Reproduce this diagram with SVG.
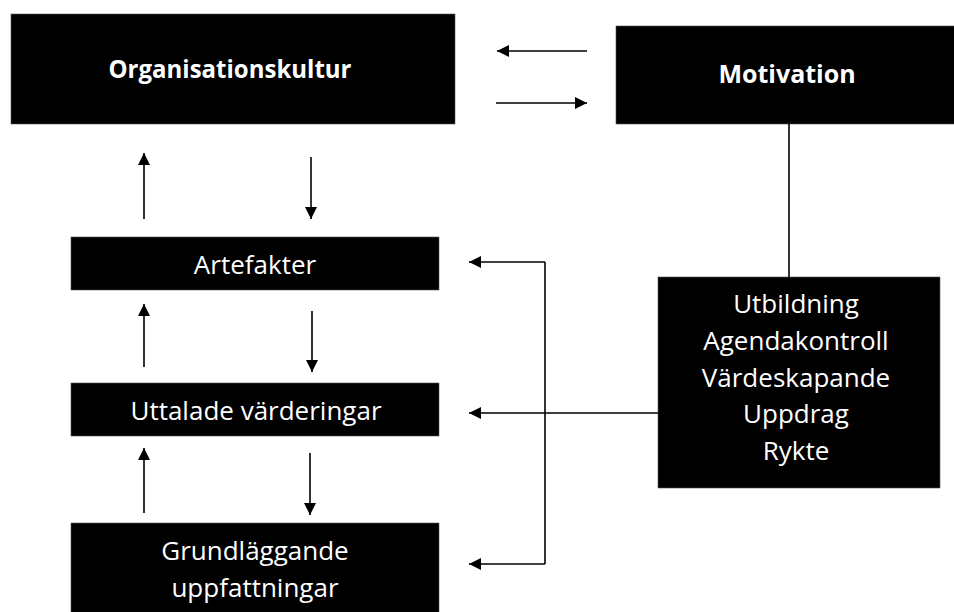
<svg xmlns="http://www.w3.org/2000/svg" width="954" height="612" viewBox="0 0 954 612">
<style>
.box{fill:#000;stroke:#555;stroke-width:0.6}
.t{fill:#fff;font-family:"Open Sans","Noto Sans","Liberation Sans",sans-serif;font-size:26px;text-anchor:middle}
.b{font-weight:bold;font-size:25px}
.c{stroke:#000;stroke-width:1.6;fill:none}
.a{marker-end:url(#ah)}
</style>
<defs>
<marker id="ah" markerUnits="userSpaceOnUse" markerWidth="13" markerHeight="12" viewBox="0 0 10 10" refX="10" refY="5" orient="auto">
<path d="M0,0 L10,5 L0,10 z" fill="#000"/>
</marker>
</defs>
<rect width="954" height="612" fill="#fff"/>
<g id="organisationskultur">
<rect class="box" x="11" y="14" width="444" height="110"/>
<text class="t b" x="230" y="78" textLength="243" lengthAdjust="spacingAndGlyphs">Organisationskultur</text>
</g>
<g id="motivation">
<rect class="box" x="616" y="26" width="340" height="98"/>
<text class="t b" x="787" y="83">Motivation</text>
</g>
<g id="artefakter">
<rect class="box" x="71" y="237" width="368" height="53"/>
<text class="t" x="255" y="274">Artefakter</text>
</g>
<g id="uttalade">
<rect class="box" x="71" y="383" width="368" height="53"/>
<text class="t" x="256" y="420">Uttalade värderingar</text>
</g>
<g id="grundlaggande">
<rect class="box" x="71" y="523" width="368" height="95"/>
<text class="t" x="255" y="560">Grundläggande</text>
<text class="t" x="255" y="597">uppfattningar</text>
</g>
<g id="faktorer">
<rect class="box" x="658" y="277" width="282" height="211"/>
<text class="t" x="796" y="313">Utbildning</text>
<text class="t" x="796" y="350">Agendakontroll</text>
<text class="t" x="796" y="387">Värdeskapande</text>
<text class="t" x="796" y="423">Uppdrag</text>
<text class="t" x="796" y="460">Rykte</text>
</g>
<g id="connectors">
<line class="c a" x1="587" y1="51" x2="497" y2="51"/>
<line class="c a" x1="496" y1="103" x2="587" y2="103"/>
<line class="c a" x1="144" y1="219" x2="144" y2="153"/>
<line class="c a" x1="311" y1="157" x2="311" y2="219"/>
<line class="c a" x1="144" y1="367" x2="144" y2="304"/>
<line class="c a" x1="312" y1="311" x2="312" y2="372"/>
<line class="c a" x1="144" y1="513" x2="144" y2="448"/>
<line class="c a" x1="310" y1="453" x2="310" y2="515"/>
<line class="c" x1="789" y1="124" x2="789" y2="277"/>
<line class="c" x1="545" y1="262" x2="545" y2="564"/>
<line class="c a" x1="545" y1="262" x2="469" y2="262"/>
<line class="c a" x1="545" y1="564" x2="469" y2="564"/>
<line class="c a" x1="658" y1="413" x2="469" y2="413"/>
</g>
</svg>
